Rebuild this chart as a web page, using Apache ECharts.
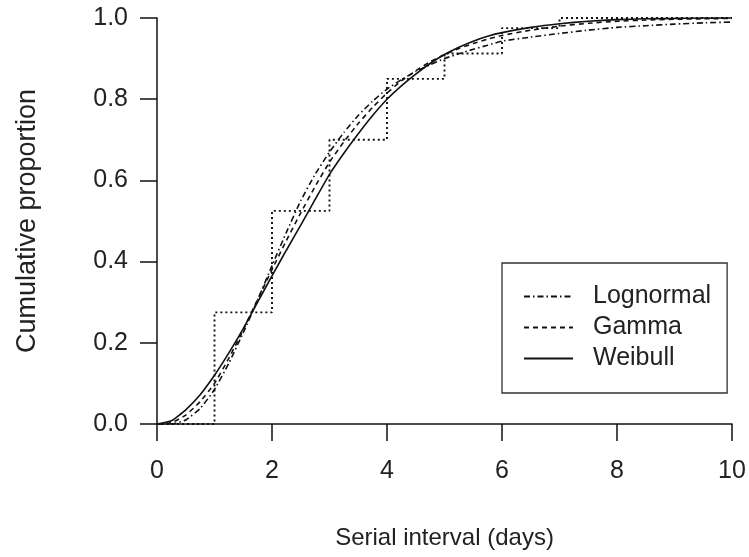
<!DOCTYPE html>
<html>
<head>
<meta charset="utf-8">
<script src="https://cdn.jsdelivr.net/npm/echarts@6/dist/echarts.min.js"></script>
<style>
  html, body { margin: 0; padding: 0; background: #fff; }
  #chart { width: 749px; height: 557px; }
</style>
</head>
<body>
<div id="chart"></div>
<script>
// Empirical cumulative proportion of serial intervals (step function)
const ecdfX = [0, 1, 2, 3, 4, 5, 6, 7, 10];
const ecdfY = [0, 0.275, 0.525, 0.70, 0.85, 0.9125, 0.975, 1.0, 1.0];

// Fitted cumulative distributions, sampled along the day axis
const curveX = [0, 0.25, 0.5, 0.75, 1, 1.25, 1.5, 1.75, 2, 2.25, 2.5, 2.75, 3, 3.25, 3.5, 3.75,
                4, 4.25, 4.5, 4.75, 5, 5.25, 5.5, 5.75, 6, 6.5, 7, 7.5, 8, 8.5, 9, 9.5, 10];
const lognormalY = [0, 0.0, 0.01, 0.038, 0.085, 0.15, 0.225, 0.305, 0.39, 0.472, 0.55, 0.615, 0.67, 0.718, 0.76, 0.795,
                    0.825, 0.848, 0.868, 0.885, 0.90, 0.912, 0.923, 0.933, 0.943, 0.953, 0.962, 0.97, 0.977, 0.981, 0.985, 0.988, 0.99];
const gammaY     = [0, 0.003, 0.022, 0.055, 0.10, 0.162, 0.232, 0.307, 0.38, 0.452, 0.52, 0.585, 0.645, 0.695, 0.74, 0.78,
                    0.815, 0.845, 0.87, 0.892, 0.91, 0.925, 0.937, 0.948, 0.957, 0.97, 0.98, 0.987, 0.992, 0.995, 0.997, 0.998, 0.999];
const weibullY   = [0, 0.008, 0.035, 0.072, 0.12, 0.175, 0.235, 0.30, 0.365, 0.428, 0.49, 0.553, 0.615, 0.667, 0.715, 0.76,
                    0.80, 0.833, 0.862, 0.888, 0.91, 0.928, 0.943, 0.955, 0.964, 0.977, 0.986, 0.992, 0.996, 0.998, 0.999, 1.0, 1.0];

const xTicks = [0, 2, 4, 6, 8, 10];
const yTicks = [0, 0.2, 0.4, 0.6, 0.8, 1.0];
const seriesNames = ['Lognormal', 'Gamma', 'Weibull'];

const FONT = "'Liberation Sans', Arial, sans-serif";
const INK = '#111';
const TEXT = '#222';

const pairs = (xs, ys) => xs.map((x, i) => [x, ys[i]]);

const curve = (name, ys, type) => ({
  name,
  type: 'line',
  data: pairs(curveX, ys),
  smooth: 0.15,
  showSymbol: false,
  symbol: 'none',
  clip: false,
  lineStyle: { color: INK, width: 1.6, type },
  itemStyle: { color: INK, opacity: 0 },
  z: 3
});

const chart = echarts.init(document.getElementById('chart'), null, { renderer: 'canvas' });

chart.setOption({
  backgroundColor: '#fff',
  animation: false,
  grid: { left: 157, right: 17, top: 18, bottom: 133, containLabel: false },
  xAxis: {
    type: 'value',
    min: 0, max: 10, interval: 2,
    name: 'Serial interval (days)',
    nameLocation: 'middle',
    nameGap: 102,
    nameTextStyle: { fontFamily: FONT, fontSize: 24, color: TEXT },
    axisLine: { show: true, onZero: false, lineStyle: { color: INK, width: 1.5 } },
    axisTick: { show: true, length: 17, inside: false, lineStyle: { color: INK, width: 1.5 } },
    axisLabel: {
      margin: 35, fontFamily: FONT, fontSize: 25, color: TEXT,
      formatter: v => xTicks.includes(v) ? String(v) : ''
    },
    splitLine: { show: false }
  },
  yAxis: {
    type: 'value',
    min: 0, max: 1, interval: 0.2,
    name: 'Cumulative proportion',
    nameLocation: 'middle',
    nameGap: 116,
    nameRotate: 90,
    nameTextStyle: { fontFamily: FONT, fontSize: 27, color: TEXT },
    axisLine: { show: true, onZero: false, lineStyle: { color: INK, width: 1.5 } },
    axisTick: { show: true, length: 17, inside: false, lineStyle: { color: INK, width: 1.5 } },
    axisLabel: {
      margin: 29, fontFamily: FONT, fontSize: 25, color: TEXT,
      formatter: v => yTicks.some(t => Math.abs(t - v) < 1e-9) ? v.toFixed(1) : ''
    },
    splitLine: { show: false }
  },
  legend: {
    data: seriesNames,
    orient: 'vertical',
    left: 502,
    top: 263,
    padding: [21, 16, 22, 21],
    itemWidth: 49,
    itemHeight: 14,
    itemGap: 6,
    borderColor: '#333',
    borderWidth: 1.3,
    borderRadius: 0,
    backgroundColor: '#fff',
    selectedMode: false,
    itemStyle: { opacity: 0 },
    textStyle: { fontFamily: FONT, fontSize: 25, color: TEXT, padding: [0, 0, 0, 15] }
  },
  series: [
    {
      name: 'Empirical',
      type: 'line',
      data: pairs(ecdfX, ecdfY),
      step: 'end',
      showSymbol: false,
      symbol: 'none',
      clip: false,
      lineStyle: { color: INK, width: 1.9, type: [2, 3] },
      z: 2
    },
    curve('Lognormal', lognormalY, [6, 3, 1.5, 3]),
    curve('Gamma', gammaY, [5, 4]),
    curve('Weibull', weibullY, 'solid')
  ]
});
</script>
</body>
</html>
